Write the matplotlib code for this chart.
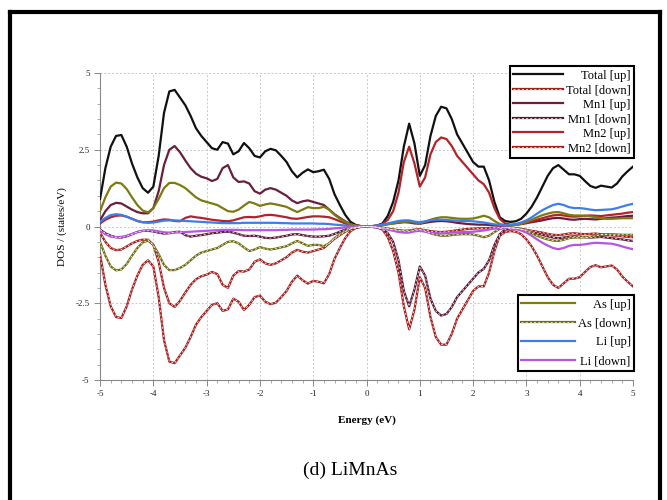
import numpy as np
import matplotlib
matplotlib.use("Agg")
import matplotlib.pyplot as plt
from matplotlib.lines import Line2D
from matplotlib.ticker import MultipleLocator

# energy grid, -5 .. 5 eV in 0.1 eV steps
energy = np.round(np.arange(-50, 51) / 10, 1)

total_up = [0.9, 1.9, 2.6, 2.95, 2.98, 2.6, 2.05, 1.6, 1.25, 1.1,
            1.3, 2.3, 3.7, 4.4, 4.45, 4.2, 3.95, 3.6, 3.2, 2.95,
            2.75, 2.55, 2.5, 2.75, 2.7, 2.35, 2.45, 2.72, 2.55, 2.3,
            2.25, 2.45, 2.53, 2.48, 2.3, 2.1, 1.8, 1.6, 1.75, 1.86,
            1.77, 1.8, 1.85, 1.55, 1.05, 0.7, 0.38, 0.15, 0.05, 0.01,
            0.0, 0.01, 0.03, 0.1, 0.35, 0.8, 1.5, 2.6, 3.35, 2.7,
            1.65, 2.0, 2.95, 3.6, 3.9, 3.85, 3.5, 3.0, 2.7, 2.4,
            2.1, 1.95, 1.95, 1.5, 0.8, 0.3, 0.18, 0.15, 0.17, 0.25,
            0.42, 0.65, 0.95, 1.3, 1.65, 1.9, 2.0, 1.85, 1.7, 1.7,
            1.65, 1.48, 1.32, 1.26, 1.33, 1.3, 1.27, 1.4, 1.63, 1.8, 1.95]

total_down = [-0.9, -1.9, -2.6, -2.95, -2.98, -2.6, -2.05, -1.6, -1.25, -1.1,
              -1.3, -2.3, -3.7, -4.4, -4.45, -4.2, -3.95, -3.6, -3.2, -2.95,
              -2.75, -2.55, -2.5, -2.75, -2.7, -2.35, -2.45, -2.72, -2.55, -2.3,
              -2.25, -2.45, -2.53, -2.48, -2.3, -2.1, -1.8, -1.6, -1.75, -1.86,
              -1.77, -1.8, -1.85, -1.55, -1.05, -0.7, -0.38, -0.15, -0.05, -0.01,
              0.0, -0.01, -0.03, -0.1, -0.35, -0.8, -1.5, -2.6, -3.35, -2.7,
              -1.65, -2.0, -2.95, -3.6, -3.85, -3.85, -3.5, -3.0, -2.7, -2.4,
              -2.1, -1.95, -1.95, -1.5, -0.8, -0.3, -0.18, -0.15, -0.17, -0.25,
              -0.42, -0.65, -0.95, -1.3, -1.65, -1.9, -2.0, -1.85, -1.7, -1.7,
              -1.65, -1.48, -1.32, -1.26, -1.33, -1.3, -1.27, -1.4, -1.63, -1.8, -1.95]

mn1_up = [0.2, 0.5, 0.7, 0.77, 0.75, 0.65, 0.55, 0.47, 0.43, 0.43,
          0.6, 1.15, 2.0, 2.5, 2.62, 2.42, 2.15, 1.9, 1.72, 1.62,
          1.57, 1.48, 1.55, 1.9, 2.0, 1.6, 1.45, 1.47, 1.4, 1.15,
          1.07, 1.2, 1.25, 1.2, 1.1, 1.0, 0.85, 0.76, 0.82, 0.85,
          0.8, 0.75, 0.7, 0.55, 0.4, 0.28, 0.17, 0.08, 0.03, 0.01,
          0.0, 0.01, 0.02, 0.05, 0.08, 0.1, 0.12, 0.14, 0.13, 0.1,
          0.09, 0.12, 0.15, 0.17, 0.18, 0.17, 0.15, 0.12, 0.1, 0.08,
          0.07, 0.06, 0.06, 0.05, 0.04, 0.03, 0.03, 0.04, 0.06, 0.08,
          0.11, 0.14, 0.17, 0.2, 0.24, 0.27, 0.28, 0.26, 0.23, 0.22,
          0.24, 0.25, 0.24, 0.23, 0.25, 0.27, 0.29, 0.3, 0.32, 0.34, 0.35]

mn2_up = [0.1, 0.22, 0.3, 0.35, 0.36, 0.32, 0.25, 0.18, 0.14, 0.14,
          0.16, 0.2, 0.23, 0.22, 0.18, 0.17, 0.28, 0.33, 0.3, 0.28,
          0.25, 0.22, 0.2, 0.18, 0.17, 0.2, 0.25, 0.3, 0.31, 0.3,
          0.33, 0.37, 0.38, 0.36, 0.33, 0.3, 0.26, 0.25, 0.28, 0.31,
          0.33, 0.33, 0.32, 0.3, 0.24, 0.17, 0.1, 0.05, 0.02, 0.01,
          0.0, 0.01, 0.03, 0.08, 0.22, 0.5, 1.1, 2.1, 2.6, 2.05,
          1.3, 1.6, 2.35, 2.75, 2.9, 2.85, 2.62, 2.3, 2.1, 1.9,
          1.7, 1.5, 1.38, 1.1, 0.6, 0.25, 0.1, 0.06, 0.06, 0.08,
          0.12, 0.17, 0.22, 0.27, 0.32, 0.36, 0.38, 0.36, 0.33, 0.32,
          0.33, 0.35, 0.36, 0.35, 0.34, 0.36, 0.38, 0.4, 0.42, 0.45, 0.47]

# Mn1 [down] follows the Mn2 [up] shape, Mn2 [down] follows Mn1 [up]
mn1_down = [-0.1, -0.22, -0.3, -0.35, -0.36, -0.32, -0.25, -0.18, -0.14, -0.14,
            -0.16, -0.2, -0.23, -0.22, -0.18, -0.17, -0.28, -0.33, -0.3, -0.28,
            -0.25, -0.22, -0.2, -0.18, -0.17, -0.2, -0.25, -0.3, -0.31, -0.3,
            -0.33, -0.37, -0.38, -0.36, -0.33, -0.3, -0.26, -0.25, -0.28, -0.31,
            -0.33, -0.33, -0.32, -0.3, -0.24, -0.17, -0.1, -0.05, -0.02, -0.01,
            0.0, -0.01, -0.03, -0.08, -0.22, -0.5, -1.1, -2.1, -2.6, -2.05,
            -1.3, -1.6, -2.35, -2.75, -2.9, -2.85, -2.62, -2.3, -2.1, -1.9,
            -1.7, -1.5, -1.38, -1.1, -0.6, -0.25, -0.1, -0.06, -0.06, -0.08,
            -0.12, -0.17, -0.22, -0.27, -0.32, -0.36, -0.38, -0.36, -0.33, -0.32,
            -0.33, -0.35, -0.36, -0.35, -0.34, -0.36, -0.38, -0.4, -0.42, -0.45, -0.47]

mn2_down = [-0.2, -0.5, -0.7, -0.77, -0.75, -0.65, -0.55, -0.47, -0.43, -0.43,
            -0.6, -1.15, -2.0, -2.5, -2.62, -2.42, -2.15, -1.9, -1.72, -1.62,
            -1.57, -1.48, -1.55, -1.9, -2.0, -1.6, -1.45, -1.47, -1.4, -1.15,
            -1.07, -1.2, -1.25, -1.2, -1.1, -1.0, -0.85, -0.76, -0.82, -0.85,
            -0.8, -0.75, -0.7, -0.55, -0.4, -0.28, -0.17, -0.08, -0.03, -0.01,
            0.0, -0.01, -0.02, -0.05, -0.08, -0.1, -0.12, -0.14, -0.13, -0.1,
            -0.09, -0.12, -0.15, -0.17, -0.18, -0.17, -0.15, -0.12, -0.1, -0.08,
            -0.07, -0.06, -0.06, -0.05, -0.04, -0.03, -0.03, -0.04, -0.06, -0.08,
            -0.11, -0.14, -0.17, -0.2, -0.24, -0.27, -0.28, -0.26, -0.23, -0.22,
            -0.24, -0.25, -0.24, -0.23, -0.25, -0.27, -0.29, -0.3, -0.32, -0.34, -0.35]

as_up = [0.5, 0.95, 1.3, 1.43, 1.4, 1.22, 0.95, 0.7, 0.52, 0.46,
         0.6, 0.9, 1.25, 1.42, 1.42, 1.35, 1.25, 1.1, 0.95, 0.85,
         0.8, 0.75, 0.7, 0.6, 0.5, 0.48, 0.55, 0.68, 0.8, 0.75,
         0.67, 0.72, 0.75, 0.72, 0.68, 0.64, 0.55, 0.47, 0.55, 0.63,
         0.6, 0.6, 0.64, 0.55, 0.38, 0.25, 0.15, 0.07, 0.03, 0.01,
         0.0, 0.01, 0.02, 0.04, 0.07, 0.1, 0.13, 0.15, 0.16, 0.13,
         0.1, 0.15, 0.22, 0.27, 0.3, 0.3, 0.28, 0.26, 0.25, 0.25,
         0.26, 0.3, 0.35, 0.3, 0.18, 0.08, 0.04, 0.03, 0.05, 0.09,
         0.15, 0.22, 0.3, 0.37, 0.42, 0.46, 0.47, 0.43, 0.38, 0.36,
         0.36, 0.35, 0.33, 0.3, 0.27, 0.25, 0.25, 0.26, 0.27, 0.27, 0.27]

as_down = [-0.5, -0.95, -1.3, -1.43, -1.4, -1.22, -0.95, -0.7, -0.52, -0.46,
           -0.6, -0.9, -1.25, -1.42, -1.42, -1.35, -1.25, -1.1, -0.95, -0.85,
           -0.8, -0.75, -0.7, -0.6, -0.5, -0.48, -0.55, -0.68, -0.8, -0.75,
           -0.67, -0.72, -0.75, -0.72, -0.68, -0.64, -0.55, -0.47, -0.55, -0.63,
           -0.6, -0.6, -0.64, -0.55, -0.38, -0.25, -0.15, -0.07, -0.03, -0.01,
           0.0, -0.01, -0.02, -0.04, -0.07, -0.1, -0.13, -0.15, -0.16, -0.13,
           -0.1, -0.15, -0.22, -0.27, -0.3, -0.3, -0.28, -0.26, -0.25, -0.25,
           -0.26, -0.3, -0.35, -0.3, -0.18, -0.08, -0.04, -0.03, -0.05, -0.09,
           -0.15, -0.22, -0.3, -0.37, -0.42, -0.46, -0.47, -0.43, -0.38, -0.36,
           -0.36, -0.35, -0.33, -0.3, -0.27, -0.25, -0.25, -0.26, -0.27, -0.27, -0.27]

li_up = [0.15, 0.28, 0.37, 0.4, 0.38, 0.32, 0.25, 0.18, 0.14, 0.12,
         0.13, 0.16, 0.19, 0.2, 0.2, 0.19, 0.18, 0.17, 0.16, 0.15,
         0.14, 0.13, 0.12, 0.11, 0.11, 0.11, 0.11, 0.12, 0.12, 0.12,
         0.12, 0.12, 0.12, 0.12, 0.11, 0.11, 0.1, 0.1, 0.1, 0.1,
         0.1, 0.09, 0.09, 0.08, 0.06, 0.05, 0.03, 0.02, 0.01, 0.0,
         0.0, 0.01, 0.03, 0.06, 0.1, 0.14, 0.18, 0.2, 0.2, 0.16,
         0.14, 0.17, 0.2, 0.22, 0.22, 0.21, 0.2, 0.19, 0.18, 0.18,
         0.17, 0.15, 0.13, 0.1, 0.07, 0.05, 0.04, 0.05, 0.08, 0.13,
         0.2, 0.3, 0.42, 0.53, 0.62, 0.7, 0.74, 0.7, 0.63, 0.6,
         0.6, 0.58, 0.55, 0.53, 0.54, 0.55, 0.56, 0.6, 0.65, 0.7, 0.74]

li_down = [-0.13, -0.25, -0.33, -0.35, -0.34, -0.3, -0.24, -0.18, -0.14, -0.12,
           -0.13, -0.16, -0.19, -0.2, -0.2, -0.19, -0.18, -0.17, -0.16, -0.15,
           -0.14, -0.13, -0.12, -0.11, -0.11, -0.11, -0.11, -0.12, -0.12, -0.12,
           -0.12, -0.12, -0.12, -0.12, -0.11, -0.11, -0.1, -0.1, -0.1, -0.1,
           -0.1, -0.09, -0.09, -0.08, -0.06, -0.05, -0.03, -0.02, -0.01, 0.0,
           0.0, -0.01, -0.03, -0.06, -0.1, -0.14, -0.18, -0.2, -0.2, -0.16,
           -0.14, -0.17, -0.2, -0.22, -0.22, -0.21, -0.2, -0.19, -0.18, -0.18,
           -0.17, -0.15, -0.13, -0.1, -0.07, -0.05, -0.04, -0.05, -0.08, -0.13,
           -0.2, -0.3, -0.42, -0.53, -0.62, -0.7, -0.74, -0.7, -0.63, -0.6,
           -0.6, -0.58, -0.55, -0.53, -0.54, -0.55, -0.56, -0.6, -0.65, -0.7, -0.74]

series = [
    ("Total [up]", total_up, "#111111", False),
    ("Total [down]", total_down, "#a51c1c", True),
    ("Mn1 [up]", mn1_up, "#6b1e3c", False),
    ("Mn1 [down]", mn1_down, "#5a1830", True),
    ("Mn2 [up]", mn2_up, "#b3232a", False),
    ("Mn2 [down]", mn2_down, "#a51c1c", True),
    ("As [up]", as_up, "#7d7a12", False),
    ("As [down]", as_down, "#6f6c10", True),
    ("Li [up]", li_up, "#3f7ee8", False),
    ("Li [down]", li_down, "#b555e0", False),
]

plt.rcParams["font.family"] = ["Liberation Serif", "DejaVu Serif"]
plt.rcParams["axes.unicode_minus"] = False

fig = plt.figure(figsize=(6.67, 5), dpi=100)
ax = fig.add_axes([0.15, 0.24, 0.799, 0.614])

handles = {}
for label, vals, color, dashed in series:
    base, = ax.plot(energy, vals, color=color, lw=1.6, zorder=3)
    if dashed:
        over, = ax.plot(energy, vals, color="white", lw=0.5,
                        dashes=(3, 3), zorder=4)
        handles[label] = (base, over)
    else:
        handles[label] = base

ax.set_xlim(-5, 5)
ax.set_ylim(-5, 5)
ax.xaxis.set_major_locator(MultipleLocator(1))
ax.xaxis.set_minor_locator(MultipleLocator(0.2))
ax.yaxis.set_minor_locator(MultipleLocator(0.5))
ax.set_yticks([-5, -2.5, 0, 2.5, 5])
ax.set_yticklabels(["-5", "-2.5", "0", "2.5", "5"])
ax.grid(True, which="major", color="#c8c8c8", ls=(0, (2, 2)), lw=0.7)
ax.set_axisbelow(True)
for s in ["top", "right"]:
    ax.spines[s].set_visible(False)
for s in ["left", "bottom"]:
    ax.spines[s].set_color("#888888")
    ax.spines[s].set_linewidth(0.8)
ax.tick_params(which="both", direction="out", colors="#888888",
               labelcolor="#222222", labelsize=6.5)
ax.tick_params(which="major", length=4, width=0.7)
ax.tick_params(which="minor", length=2, width=0.5)

ax.set_xlabel("Energy (eV)", fontsize=8, fontweight="bold", labelpad=12)
ax.set_ylabel("DOS / (states/eV)", fontsize=8, labelpad=6)

names1 = ["Total [up]", "Total [down]", "Mn1 [up]", "Mn1 [down]",
          "Mn2 [up]", "Mn2 [down]"]
names2 = ["As [up]", "As [down]", "Li [up]", "Li [down]"]


def add_legend(names, anchor, spacing, handlelen):
    leg = ax.legend([handles[n] for n in names], names, loc="upper right",
                    bbox_to_anchor=anchor, bbox_transform=fig.transFigure,
                    fontsize=9, handlelength=handlelen, handletextpad=0.2,
                    labelspacing=spacing, borderpad=0.3, borderaxespad=0,
                    fancybox=False, framealpha=1, edgecolor="black")
    leg.get_frame().set_linewidth(1.5)
    return leg


leg1 = add_legend(names1, (0.951, 0.868), 0.2, 4.0)
ax.add_artist(leg1)
leg2 = add_legend(names2, (0.951, 0.41), 0.55, 4.3)

# right-align the legend texts: shift each one by its width deficit
fig.canvas.draw()
for leg in (leg1, leg2):
    texts = leg.get_texts()
    widths = [t.get_window_extent().width for t in texts]
    wmax = max(widths)
    for t, w in zip(texts, widths):
        t.set_position((wmax - w, 0))

fig.text(0.525, 0.06, "(d) LiMnAs", ha="center", va="center", fontsize=14)

# outer frame (open at the bottom)
for xs, ys in [([0.015, 0.015], [0.0, 0.976]),
               ([0.015, 0.99], [0.976, 0.976]),
               ([0.99, 0.99], [0.0, 0.976])]:
    fig.add_artist(Line2D(xs, ys, color="black", lw=3,
                          transform=fig.transFigure, solid_capstyle="projecting"))

fig.savefig("out.png", dpi=100)
